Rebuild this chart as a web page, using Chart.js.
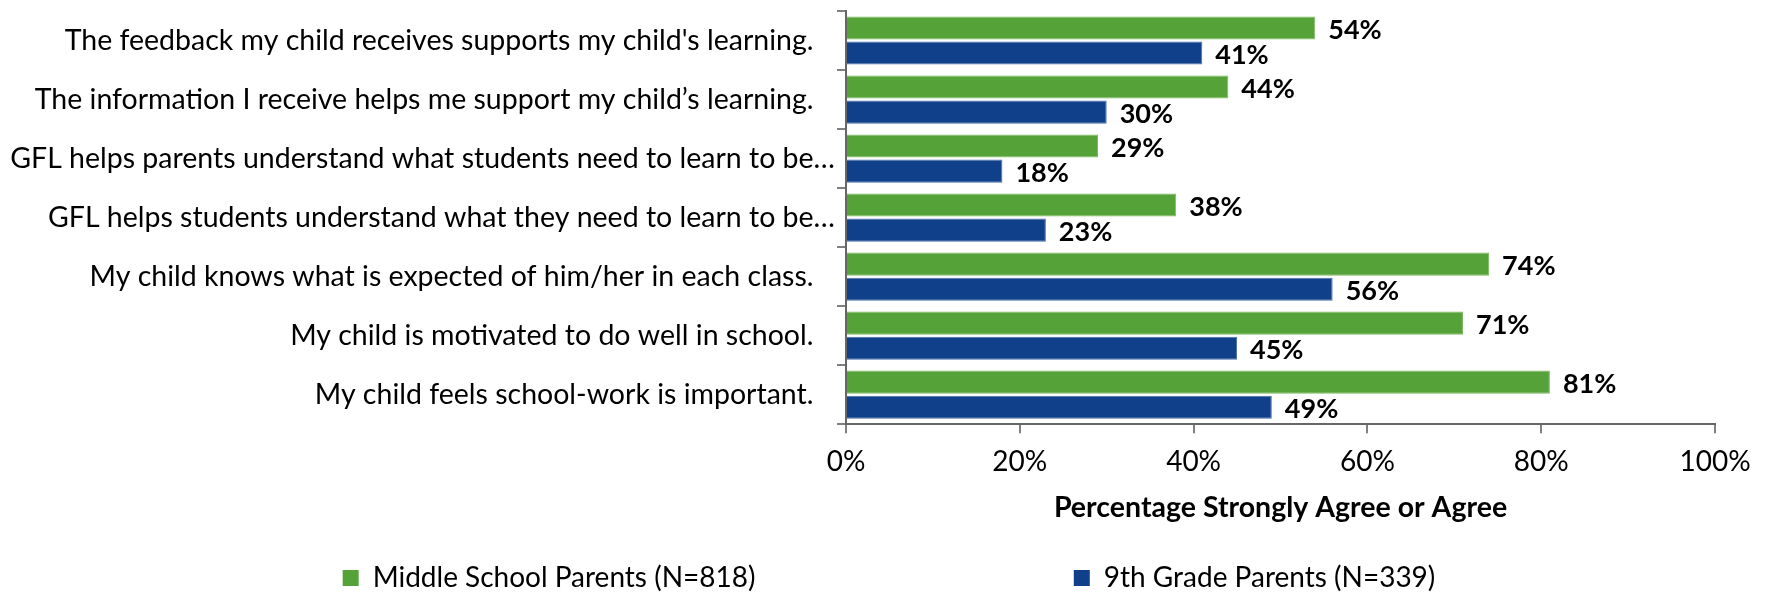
<!DOCTYPE html>
<html>
<head>
<meta charset="utf-8">
<script src="https://cdn.jsdelivr.net/npm/chart.js@4.4.1/dist/chart.umd.min.js"></script>
<style>
  html, body { margin: 0; padding: 0; background: #fff; }
  #wrap { width: 1767px; height: 592px; }
</style>
</head>
<body>
<div id="wrap"><canvas id="chart"></canvas></div>
<script>
const categories = [
  "The feedback my child receives supports my child's learning.",
  "The information I receive helps me support my child\u2019s learning.",
  "GFL helps parents understand what students need to learn to be\u2026",
  "GFL helps students understand what they need to learn to be\u2026",
  "My child knows what is expected of him/her in each class.",
  "My child is motivated to do well in school.",
  "My child feels school-work is important.",
];
const middleSchool = [54, 44, 29, 38, 74, 71, 81];
const ninthGrade = [41, 30, 18, 23, 56, 45, 49];
const seriesNames = ['Middle School Parents (N=818)', '9th Grade Parents (N=339)'];
const xTicks = [0, 20, 40, 60, 80, 100];

const FONT = "Lato, 'Open Sans', sans-serif";

// value labels at the end of each bar
const barValues = {
  id: 'barValues',
  afterDatasetsDraw(chart) {
    const ctx = chart.ctx;
    ctx.save();
    ctx.font = 'bold 27px ' + FONT;
    ctx.fillStyle = '#000';
    ctx.textAlign = 'left';
    ctx.textBaseline = 'middle';
    chart.data.datasets.forEach((ds, i) => {
      chart.getDatasetMeta(i).data.forEach((bar, j) => {
        ctx.fillText(ds.data[j] + '%', bar.x + 13, bar.y + 2);
      });
    });
    ctx.restore();
  }
};

// legend in the original sits a little right of the canvas centre
const legendShift = {
  id: 'legendShift',
  afterLayout(chart) {
    const lg = chart.legend;
    const dx = 889 - (lg.left + lg.right) / 2;
    lg.left += dx;
    lg.right += dx;
  }
};

new Chart('chart', {
  type: 'bar',
  plugins: [barValues, legendShift],
  data: {
    labels: categories,
    datasets: [
      {
        label: seriesNames[0],
        data: middleSchool,
        backgroundColor: '#54a238',
        borderColor: '#7cbb62',
        borderWidth: 1,
        categoryPercentage: 0.85,
        barPercentage: 0.92,
      },
      {
        label: seriesNames[1],
        data: ninthGrade,
        backgroundColor: '#11408a',
        borderColor: '#4a6fa8',
        borderWidth: 1,
        categoryPercentage: 0.85,
        barPercentage: 0.92,
      },
    ],
  },
  options: {
    indexAxis: 'y',
    responsive: true,
    maintainAspectRatio: false,
    animation: false,
    layout: { padding: { top: 11, right: 52, left: 0, bottom: 0 } },
    plugins: {
      tooltip: { enabled: false },
      legend: {
        position: 'bottom',
        maxHeight: 38,
        labels: {
          font: { family: FONT, size: 28 },
          color: '#000',
          boxWidth: 16,
          boxHeight: 16,
          padding: 10,
          // wide gap between the two legend entries
          generateLabels: (chart) => chart.data.datasets.map((ds, i) => ({
            text: i === 0 ? ds.label + '\u2003'.repeat(14) + '  ' : ds.label,
            fillStyle: ds.backgroundColor,
            strokeStyle: ds.backgroundColor,
            lineWidth: 0,
            datasetIndex: i,
          })),
        },
      },
    },
    scales: {
      x: {
        min: 0,
        max: 100,
        afterBuildTicks: (s) => { s.ticks = xTicks.map(v => ({ value: v })); },
        grid: {
          display: true,
          drawOnChartArea: false,
          drawTicks: true,
          tickLength: 9,
          color: '#808080',
          lineWidth: 2,
        },
        border: { display: true, color: '#666', width: 2 },
        ticks: {
          padding: 12,
          color: '#000',
          font: { family: FONT, size: 28 },
          callback: (v) => v + '%',
        },
        title: {
          display: true,
          text: 'Percentage Strongly Agree or Agree',
          color: '#000',
          font: { family: FONT, size: 28.5, weight: 'bold' },
          padding: { top: 0, bottom: 29 },
        },
      },
      y: {
        afterFit: (s) => {
          s.width = 846;
          s.paddingTop = 0;
          s.paddingBottom = 0;
        },
        grid: {
          display: true,
          drawOnChartArea: false,
          drawTicks: true,
          tickLength: 9,
          offset: true,
          color: '#808080',
          lineWidth: 2,
        },
        border: { display: true, color: '#666', width: 2 },
        ticks: {
          padding: 2,
          color: '#000',
          font: { family: FONT, size: 28.5 },
          autoSkip: false,
          // truncated labels run a bit further right, like in the original
          callback: function (v) {
            const t = this.getLabelForValue(v);
            return t.endsWith('\u2026') ? t : t + '\u2002 ';
          },
        },
      },
    },
  },
});
</script>
</body>
</html>
